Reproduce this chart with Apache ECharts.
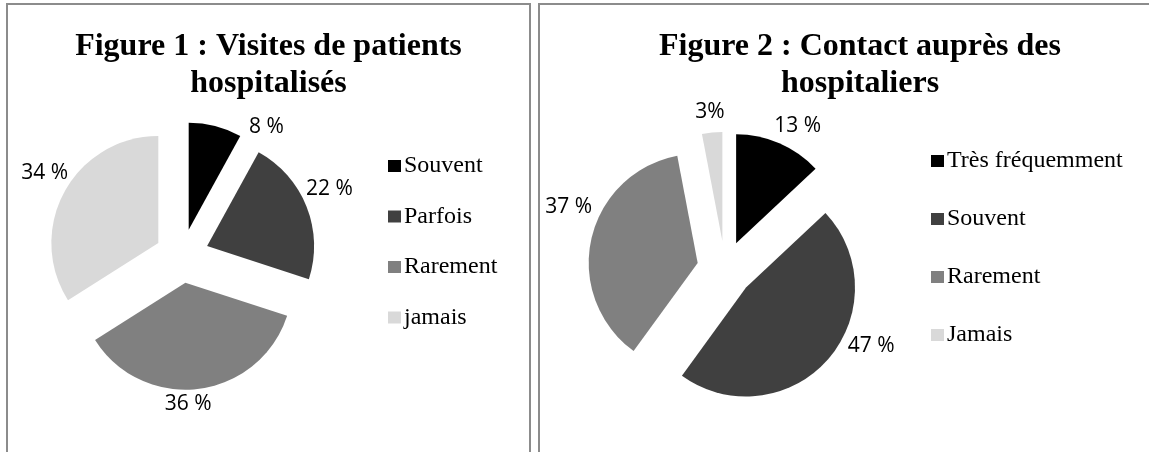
<!DOCTYPE html>
<html>
<head>
<meta charset="utf-8">
<script src="https://cdn.jsdelivr.net/npm/echarts@6/dist/echarts.min.js"></script>
<style>
  html, body { margin: 0; padding: 0; overflow: hidden; background: #fff; }
  .panel { position: absolute; top: 3px; height: 470px; border: 2px solid #8c8c8c; border-bottom: none; }
  #p1 { left: 6px; width: 521px; }
  #p2 { left: 538px; width: 640px; border-right: none; }
  .chart { width: 100%; height: 447px; }
</style>
</head>
<body>
<div class="panel" id="p1"><div class="chart" id="fig1"></div></div>
<div class="panel" id="p2"><div class="chart" id="fig2"></div></div>
<script>
// figure 1
const fig1Categories = ['Souvent', 'Parfois', 'Rarement', 'jamais']
const fig1Values = [8, 22, 36, 34]
const fig1Labels = ['8 %', '22 %', '36 %', '34 %']

// figure 2
const fig2Categories = ['Très fréquemment', 'Souvent', 'Rarement', 'Jamais']
const fig2Values = [13, 47, 37, 3]
const fig2Labels = ['13 %', '47 %', '37 %', '3%']

const shades = ['#000000', '#404040', '#808080', '#d9d9d9']

function makePie(elId, cfg) {
  const chart = echarts.init(document.getElementById(elId))
  const items = cfg.categories.map((name, i) => ({ name: name, value: cfg.values[i] }))

  // label box sits just outside the circle, pushed out by half its own size
  // (excel "best fit" turns some of them a little off the bisector)
  const labelLayout = (params) => {
    const lay = chart.getModel().getSeriesByIndex(1).getData().getItemLayout(params.dataIndex)
    const mid = (lay.startAngle + lay.endAngle) / 2 + cfg.labelTurn[params.dataIndex] * Math.PI / 180
    const ux = Math.cos(mid)
    const uy = Math.sin(mid)
    const dist = lay.r + cfg.labelGap
    return {
      x: lay.cx + dist * ux + ux * params.labelRect.width / 2,
      y: lay.cy + dist * uy + uy * 10 - 2,
      align: 'center',
      verticalAlign: 'middle'
    }
  }

  const pieBase = {
    type: 'pie',
    center: cfg.center,
    radius: cfg.radius,
    startAngle: 90,
    clockwise: true,
    avoidLabelOverlap: false,
    emphasis: { disabled: true },
    labelLine: { show: false }
  }

  chart.setOption({
    animation: false,
    color: shades,
    title: {
      text: cfg.title,
      left: 'center',
      top: 23,
      padding: 0,
      textStyle: {
        fontFamily: 'Liberation Serif',
        fontWeight: 'bold',
        fontSize: 32,
        lineHeight: 37,
        color: '#000'
      }
    },
    legend: {
      orient: 'vertical',
      left: cfg.legendLeft,
      top: cfg.legendTop,
      padding: 0,
      itemGap: cfg.legendGap,
      itemWidth: 13,
      itemHeight: 12,
      icon: 'rect',
      selectedMode: false,
      textStyle: {
        fontFamily: 'Liberation Serif',
        fontSize: 24,
        lineHeight: 24,
        color: '#000',
        padding: [0, 0, 0, -2]
      },
      data: cfg.categories
    },
    series: [
      // exploded slices
      Object.assign({}, pieBase, {
        selectedMode: 'multiple',
        selectedOffset: cfg.explode,
        itemStyle: { borderWidth: 0 },
        select: { itemStyle: { borderWidth: 0 } },
        label: { show: false },
        data: items.map((d) => Object.assign({ selected: true }, d))
      }),
      // same pie, invisible, only carries the percentage labels
      Object.assign({}, pieBase, {
        silent: true,
        itemStyle: { color: 'rgba(0,0,0,0)', borderWidth: 0 },
        label: {
          show: true,
          position: 'outside',
          fontFamily: 'Open Sans',
          fontSize: 21,
          color: '#000',
          formatter: (p) => cfg.labels[p.dataIndex]
        },
        labelLayout: labelLayout,
        data: items
      })
    ]
  })
  return chart
}

makePie('fig1', {
  title: 'Figure 1 : Visites de patients\nhospitalisés',
  categories: fig1Categories,
  values: fig1Values,
  labels: fig1Labels,
  center: [174, 251],
  radius: 107,
  explode: 27,
  labelGap: 33,
  labelTurn: [18, -4, 5, 4],
  legendLeft: 380,
  legendTop: 149,
  legendGap: 26.5
})

makePie('fig2', {
  title: 'Figure 2 : Contact auprès des\nhospitaliers',
  categories: fig2Categories,
  values: fig2Values,
  labels: fig2Labels,
  center: [185, 264],
  radius: 109,
  explode: 28,
  labelGap: 37,
  labelTurn: [2, -11, 10, 0],
  legendLeft: 391,
  legendTop: 144,
  legendGap: 34
})
</script>
</body>
</html>
